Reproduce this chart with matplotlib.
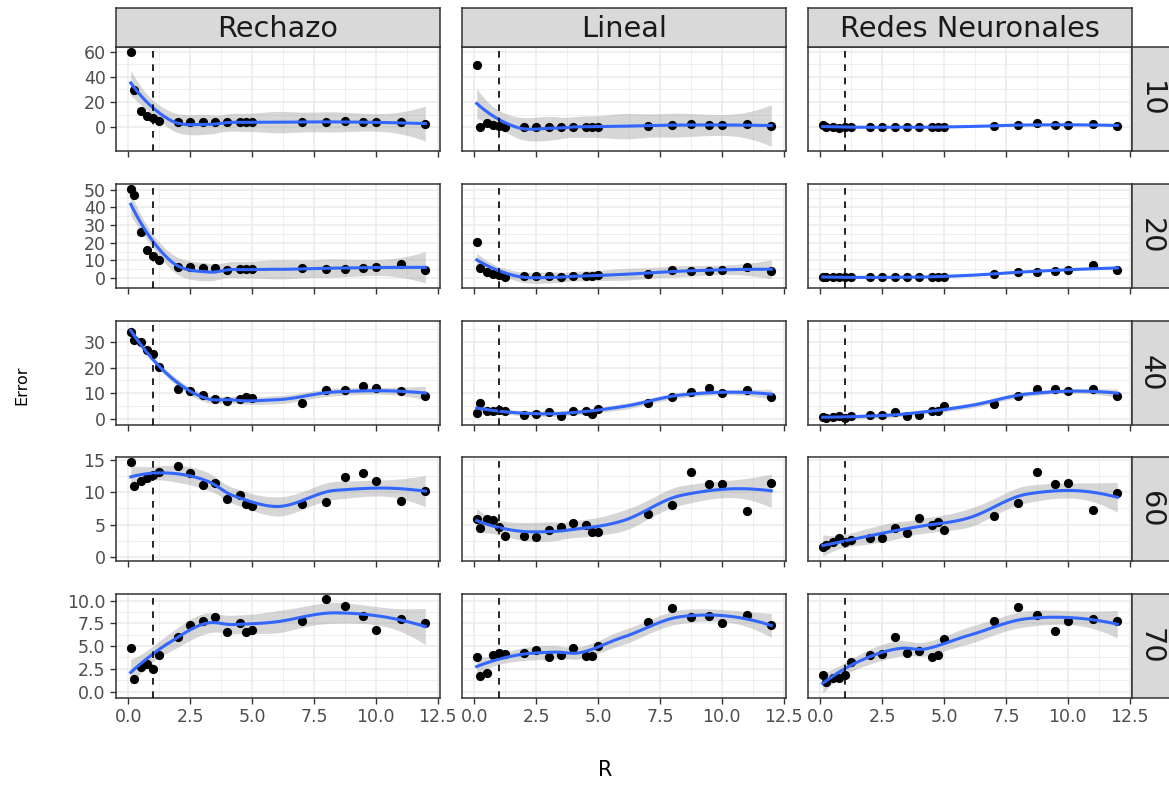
import numpy as np
import matplotlib
matplotlib.use("Agg")
import matplotlib.pyplot as plt

# R values shared by every panel
r_vals = [0.1, 0.25, 0.5, 0.75, 1.0, 1.25, 2, 2.5, 3, 3.5, 4, 4.5, 4.75, 5,
          7, 8, 8.75, 9.5, 10, 11, 12]

methods = ["Rechazo", "Lineal", "Redes Neuronales"]
sizes = ["10", "20", "40", "60", "70"]

err_rechazo_10 = [60, 29.3, 13, 9, 7.5, 5, 4.3, 4.3, 4.3, 4, 4, 4, 4, 4,
                  3.8, 4.4, 4.6, 3.8, 3.8, 3.8, 2.6]
err_lineal_10 = [49.7, 0, 3, 1.6, 0.8, 0, 0, 0.5, 0.5, 0, 0, 0.5, 0.5, 0.5,
                 1, 1.6, 2.7, 1.4, 1.4, 2.2, 1]
err_redes_10 = [1.6, 0, 0, -0.3, 0, 0, 0, 0, 0, 0, 0, 0, 0, 0,
                1, 1.6, 3, 1.4, 1.6, 2.2, 1.2]

err_rechazo_20 = [50.5, 47, 26, 15.8, 12.7, 10, 6.5, 6.2, 5.8, 5.8, 4.6, 5, 5, 5,
                  5.6, 5.2, 5.2, 5.8, 6.2, 7.9, 4.8]
err_lineal_20 = [20.3, 5.8, 3.3, 2.3, 1.7, 0.8, 0.9, 1.1, 1.1, 0.8, 0.9, 1.1, 1.1, 1.9,
                 2.3, 4.6, 3.8, 4.2, 4.6, 6.2, 4.2]
err_redes_20 = [0.8, 0.4, 0.4, 0.4, 0.4, 0.4, 0.4, 0.4, 0.4, 0.4, 0.8, 0.4, 0.8, 0.8,
                2.3, 3.6, 3.6, 4.2, 4.6, 7.1, 4.6]

err_rechazo_40 = [34, 30.6, 30.2, 27, 25.5, 20.1, 11.5, 10.7, 9.3, 7.7, 7, 7.7, 8.6, 8.1,
                  6.1, 11.1, 11.1, 12.8, 12, 10.8, 9]
err_lineal_40 = [2.3, 6.1, 3.2, 3.2, 3.5, 3, 1.3, 1.9, 2.7, 1.2, 3.2, 3.2, 2, 4,
                 6.1, 8.6, 10.4, 12, 10, 11.1, 8.6]
err_redes_40 = [0.5, 0.4, 0.5, 1.2, 0.4, 1.2, 1.3, 1.3, 2.7, 0.9, 1.6, 3, 3.2, 5,
                5.7, 8.8, 11.5, 11.8, 10.7, 11.8, 8.8]

err_rechazo_60 = [14.7, 11, 11.8, 12.2, 12.7, 13.1, 14, 13, 11.1, 11.5, 9, 9.6, 8.2, 7.9,
                  8.2, 8.5, 12.3, 13, 11.7, 8.6, 10.2]
err_lineal_60 = [5.9, 4.5, 5.9, 5.7, 4.6, 3.3, 3.3, 3.1, 4.2, 4.7, 5.2, 4.9, 3.9, 3.9,
                 6.6, 8.1, 13.1, 11.2, 11.2, 7.1, 11.5]
err_redes_60 = [1.5, 1.9, 2.3, 2.9, 2.3, 2.7, 3, 3, 4.5, 3.8, 6.1, 5, 5.4, 4.2,
                6.3, 8.4, 13.1, 11.2, 11.4, 7.3, 9.9]

err_rechazo_70 = [4.8, 1.4, 2.7, 3.0, 2.5, 4.0, 6.0, 7.3, 7.8, 8.2, 6.5, 7.5, 6.5, 6.8,
                  7.8, 10.2, 9.4, 8.3, 6.8, 8.0, 7.5]
err_lineal_70 = [3.8, 1.7, 2.0, 4.0, 4.2, 4.1, 4.2, 4.6, 3.8, 4.0, 4.8, 3.9, 3.9, 5.0,
                 7.6, 9.2, 8.2, 8.3, 7.5, 8.4, 7.3]
err_redes_70 = [1.8, 1.0, 1.5, 1.5, 1.8, 3.2, 4.0, 4.1, 6.0, 4.2, 4.5, 3.8, 4.0, 5.8,
                7.7, 9.3, 8.4, 6.6, 7.7, 8.0, 7.8]

rows = [
    [err_rechazo_10, err_lineal_10, err_redes_10],
    [err_rechazo_20, err_lineal_20, err_redes_20],
    [err_rechazo_40, err_lineal_40, err_redes_40],
    [err_rechazo_60, err_lineal_60, err_redes_60],
    [err_rechazo_70, err_lineal_70, err_redes_70],
]

y_ticks = [[0, 20, 40, 60], [0, 10, 20, 30, 40, 50], [0, 10, 20, 30],
           [0, 5, 10, 15], [0, 2.5, 5, 7.5, 10]]
y_fmt = ["{:.0f}", "{:.0f}", "{:.0f}", "{:.0f}", "{:.1f}"]
x_ticks = [0, 2.5, 5, 7.5, 10, 12.5]
r_cut = 1.0


def t_quant(df):
    z = 1.959964
    return z + (z**3 + z) / (4 * df) + (5 * z**5 + 16 * z**3 + 3 * z) / (96 * df**2)


def local_ops(x, x0s, span=0.75):
    # value and slope operators of a local quadratic fit (tricube weights)
    n = len(x)
    q = int(np.floor(n * span))
    vals, slopes = [], []
    for x0 in x0s:
        d = np.abs(x - x0)
        h = np.sort(d)[q - 1]
        w = np.clip(1 - (d / h) ** 3, 0, None) ** 3
        X = np.column_stack([np.ones(n), x - x0, (x - x0) ** 2])
        XtW = X.T * w
        B = np.linalg.solve(XtW @ X, XtW)
        vals.append(B[0])
        slopes.append(B[1])
    return np.array(vals), np.array(slopes)


def kd_vertices(x, span=0.75, cell=0.2):
    xsrt = np.sort(x)
    n = len(x)
    fc = int(np.floor(n * span * cell))
    mu = 0.005 * (xsrt[-1] - xsrt[0])
    verts = {xsrt[0] - mu, xsrt[-1] + mu}

    def split(l, u):
        if u - l + 1 <= fc:
            return
        m = (l + u) // 2
        verts.add((xsrt[m] + xsrt[m + 1]) / 2)
        split(l, m)
        split(m + 1, u)

    split(0, n - 1)
    return np.array(sorted(verts))


def interp_ops(v, V, S, xq):
    # cubic Hermite interpolation between kd-tree vertices
    out = []
    for xx in xq:
        k = min(max(np.searchsorted(v, xx) - 1, 0), len(v) - 2)
        h = v[k + 1] - v[k]
        t = (xx - v[k]) / h
        h00 = 2 * t**3 - 3 * t**2 + 1
        h10 = t**3 - 2 * t**2 + t
        h01 = -2 * t**3 + 3 * t**2
        h11 = t**3 - t**2
        out.append(h00 * V[k] + h10 * h * S[k] + h01 * V[k + 1] + h11 * h * S[k + 1])
    return np.array(out)


def smooth(x, y, n_out=80):
    x = np.asarray(x, float)
    y = np.asarray(y, float)
    xs = np.linspace(x.min(), x.max(), n_out)
    v = kd_vertices(x)
    V, S = local_ops(x, v)
    L = interp_ops(v, V, S, x)
    Ls = interp_ops(v, V, S, xs)
    res = y - L @ y
    M = (np.eye(len(x)) - L).T @ (np.eye(len(x)) - L)
    d1 = np.trace(M)
    d2 = np.trace(M @ M)
    sigma = np.sqrt(np.sum(res ** 2) / d1)
    se = sigma * np.sqrt(np.sum(Ls ** 2, axis=1))
    fit = Ls @ y
    ci = t_quant(d1 ** 2 / d2) * se
    return xs, fit, fit - ci, fit + ci


W, H = 1169, 785
fig = plt.figure(figsize=(W / 100, H / 100), dpi=100)

col_left = [116, 462, 808]
col_w = 324
row_top = [47, 184, 321, 457, 594]
row_h = 104

x = np.array(r_vals)
xr = x.max() - x.min()
xlim = (x.min() - 0.05 * xr, x.max() + 0.05 * xr)


def strip(rect, label, rot):
    sax = fig.add_axes(rect)
    sax.set_facecolor("#d9d9d9")
    sax.set_xticks([])
    sax.set_yticks([])
    for s in sax.spines.values():
        s.set_color("#333333")
        s.set_linewidth(1.1)
    sax.text(0.5, 0.47 if rot == 0 else 0.5, label, ha="center", va="center",
             fontsize=20.7, rotation=rot, color="#1a1a1a", transform=sax.transAxes)


for i, row in enumerate(rows):
    fits = [smooth(x, yy) for yy in row]
    lo = min(min(min(yy) for yy in row), min(f[2].min() for f in fits))
    hi = max(max(max(yy) for yy in row), max(f[3].max() for f in fits))
    ylim = (lo - 0.05 * (hi - lo), hi + 0.05 * (hi - lo))
    for j, yy in enumerate(row):
        ax = fig.add_axes([col_left[j] / W, 1 - (row_top[i] + row_h) / H,
                           col_w / W, row_h / H])
        xs, fit, lwr, upr = fits[j]
        ax.set_xlim(xlim)
        ax.set_xticks(x_ticks)
        ax.set_xticks([t + 1.25 for t in x_ticks[:-1]], minor=True)
        ax.set_yticks(y_ticks[i])
        ax.set_yticks([t + (y_ticks[i][1] - y_ticks[i][0]) / 2 for t in y_ticks[i]], minor=True)
        ax.set_ylim(ylim)
        ax.grid(True, which="major", color="#ebebeb", lw=1.1)
        ax.grid(True, which="minor", color="#ebebeb", lw=0.55)
        ax.set_axisbelow(True)
        for s in ax.spines.values():
            s.set_color("#333333")
            s.set_linewidth(1.1)
        ax.tick_params(which="minor", length=0)
        ax.tick_params(which="major", colors="#333333", labelcolor="#4d4d4d",
                       labelsize=12.5, length=4, width=1)
        ax.fill_between(xs, lwr, upr, color="#999999", alpha=0.4, lw=0, zorder=2)
        ax.scatter(x, yy, s=44, color="black", zorder=3, lw=0)
        ax.plot(xs, fit, color="#3366FF", lw=2.2, zorder=4)
        ax.axvline(r_cut, color="black", lw=1.2, ls=(0, (4, 4)), zorder=5)
        if i == len(rows) - 1:
            ax.set_xticklabels(["{:.1f}".format(t) for t in x_ticks])
        else:
            ax.set_xticklabels([])
        if j == 0:
            ax.set_yticklabels([y_fmt[i].format(t) for t in y_ticks[i]])
        else:
            ax.tick_params(axis="y", which="both", left=False, labelleft=False)

        if i == 0:
            strip([col_left[j] / W, 1 - row_top[0] / H, col_w / W, 39 / H], methods[j], 0)
        if j == 2:
            strip([(col_left[2] + col_w) / W, 1 - (row_top[i] + row_h) / H,
                   38 / W, row_h / H], sizes[i], -90)

fig.text(22 / W, 1 - 385 / H, "Error", rotation=90, ha="center", va="center", fontsize=11.5)
fig.text(605 / W, 1 - 770 / H, "R", ha="center", va="center", fontsize=15)

fig.savefig("out.png", dpi=100)
